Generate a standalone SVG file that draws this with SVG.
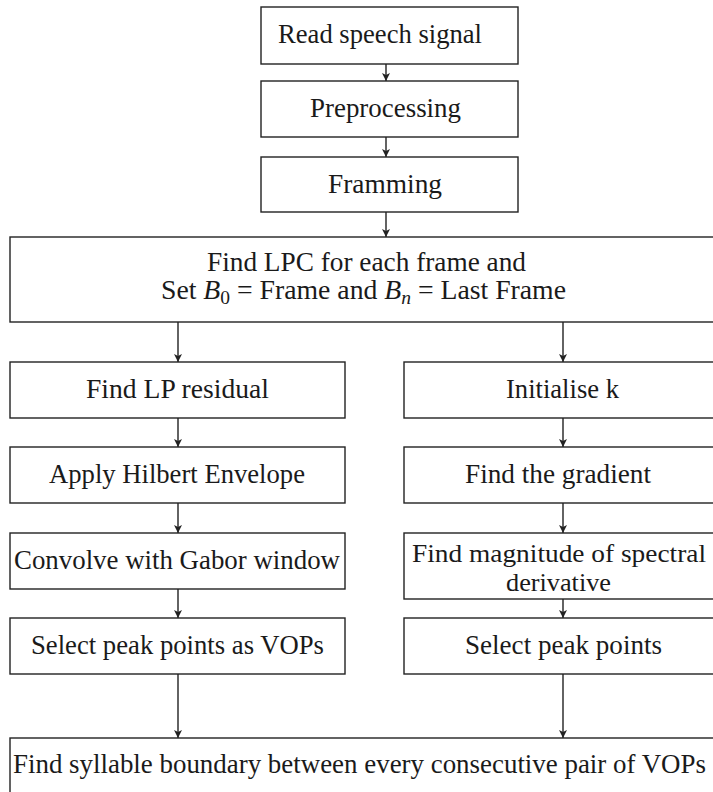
<svg xmlns="http://www.w3.org/2000/svg" width="713" height="792" viewBox="0 0 713 792">
  <style>
    .box { fill: #ffffff; stroke: #222222; stroke-width: 1.4; }
    .lbl { font-family: "Liberation Serif", "DejaVu Serif", "Times New Roman", serif; font-size: 27px; fill: #1a1a1a; text-anchor: middle; }
    .small { font-size: 25px; }
    .it { font-style: italic; }
    .sub { font-size: 19px; }
    .edge { stroke: #222222; stroke-width: 1.4; fill: none; marker-end: url(#arrow); }
  </style>
  <defs>
    <marker id="arrow" viewBox="0 0 8 10" refX="8" refY="5" markerWidth="8" markerHeight="10" markerUnits="userSpaceOnUse" orient="auto">
      <path d="M0,1 L8,5 L0,9 L2,5 Z" fill="#222222"/>
    </marker>
  </defs>
  <rect width="713" height="792" fill="#ffffff"/>

  <g id="connectors">
    <line class="edge" x1="386" y1="64" x2="386" y2="81"/>
    <line class="edge" x1="386" y1="137" x2="386" y2="157"/>
    <line class="edge" x1="386" y1="212" x2="386" y2="237"/>
    <line class="edge" x1="178" y1="322" x2="178" y2="362"/>
    <line class="edge" x1="178" y1="418" x2="178" y2="447"/>
    <line class="edge" x1="178" y1="503" x2="178" y2="533"/>
    <line class="edge" x1="178" y1="589" x2="178" y2="618"/>
    <line class="edge" x1="178" y1="674" x2="178" y2="738"/>
    <line class="edge" x1="563" y1="322" x2="563" y2="362"/>
    <line class="edge" x1="563" y1="418" x2="563" y2="447"/>
    <line class="edge" x1="563" y1="503" x2="563" y2="533"/>
    <line class="edge" x1="563" y1="599" x2="563" y2="618"/>
    <line class="edge" x1="563" y1="674" x2="563" y2="738"/>
  </g>

  <g id="read">
    <rect class="box" x="261" y="7" width="257" height="57"/>
    <text class="lbl" x="380" y="43" textLength="204" lengthAdjust="spacingAndGlyphs">Read speech signal</text>
  </g>
  <g id="preprocessing">
    <rect class="box" x="261" y="81" width="257" height="56"/>
    <text class="lbl" x="385.5" y="117" textLength="151" lengthAdjust="spacingAndGlyphs">Preprocessing</text>
  </g>
  <g id="framing">
    <rect class="box" x="261" y="157" width="257" height="55"/>
    <text class="lbl" x="385" y="193" textLength="114" lengthAdjust="spacingAndGlyphs">Framming</text>
  </g>
  <g id="lpc">
    <rect class="box" x="10" y="237" width="712" height="85"/>
    <text class="lbl" x="366.5" y="271" textLength="319" lengthAdjust="spacingAndGlyphs">Find LPC for each frame and</text>
    <text class="lbl" x="363.5" y="299" textLength="405" lengthAdjust="spacingAndGlyphs">Set <tspan class="it">B</tspan><tspan class="sub" dy="5">0</tspan><tspan dy="-5"> = Frame and </tspan><tspan class="it">B</tspan><tspan class="sub it" dy="5">n</tspan><tspan dy="-5"> = Last Frame</tspan></text>
  </g>

  <g id="lp-residual">
    <rect class="box" x="10" y="362" width="335" height="56"/>
    <text class="lbl" x="177.5" y="398" textLength="183" lengthAdjust="spacingAndGlyphs">Find LP residual</text>
  </g>
  <g id="hilbert">
    <rect class="box" x="10" y="447" width="335" height="56"/>
    <text class="lbl" x="177" y="483" textLength="256" lengthAdjust="spacingAndGlyphs">Apply Hilbert Envelope</text>
  </g>
  <g id="gabor">
    <rect class="box" x="10" y="533" width="335" height="56"/>
    <text class="lbl" x="177" y="569" textLength="326" lengthAdjust="spacingAndGlyphs">Convolve with Gabor window</text>
  </g>
  <g id="vops">
    <rect class="box" x="10" y="618" width="335" height="56"/>
    <text class="lbl" x="177.5" y="654" textLength="293" lengthAdjust="spacingAndGlyphs">Select peak points as VOPs</text>
  </g>

  <g id="init-k">
    <rect class="box" x="404" y="362" width="318" height="56"/>
    <text class="lbl" x="562.5" y="398" textLength="113" lengthAdjust="spacingAndGlyphs">Initialise k</text>
  </g>
  <g id="gradient">
    <rect class="box" x="404" y="447" width="318" height="56"/>
    <text class="lbl" x="558" y="483" textLength="186" lengthAdjust="spacingAndGlyphs">Find the gradient</text>
  </g>
  <g id="magnitude">
    <rect class="box" x="404" y="533" width="318" height="66"/>
    <text class="lbl small" x="559" y="562" textLength="294" lengthAdjust="spacingAndGlyphs">Find magnitude of spectral</text>
    <text class="lbl small" x="558.5" y="591" textLength="105" lengthAdjust="spacingAndGlyphs">derivative</text>
  </g>
  <g id="peaks">
    <rect class="box" x="404" y="618" width="318" height="56"/>
    <text class="lbl" x="563.5" y="654" textLength="197" lengthAdjust="spacingAndGlyphs">Select peak points</text>
  </g>

  <g id="syllable">
    <rect class="box" x="10" y="738" width="712" height="70"/>
    <text class="lbl" x="359.5" y="773" textLength="693" lengthAdjust="spacingAndGlyphs">Find syllable boundary between every consecutive pair of VOPs</text>
  </g>
</svg>
